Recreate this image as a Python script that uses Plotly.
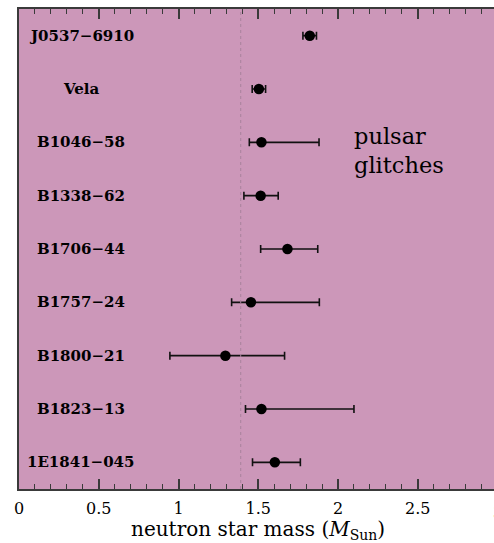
import plotly.graph_objects as go

pulsars = ["J0537−6910", "Vela", "B1046−58", "B1338−62", "B1706−44",
           "B1757−24", "B1800−21", "B1823−13", "1E1841−045"]
mass = [1.823, 1.504, 1.52, 1.515, 1.683, 1.454, 1.294, 1.52, 1.604]
mass_lo = [1.78, 1.462, 1.444, 1.41, 1.515, 1.333, 0.946, 1.42, 1.464]
mass_hi = [1.865, 1.546, 1.881, 1.625, 1.873, 1.883, 1.665, 2.10, 1.764]
ref_mass = 1.39
xticks = [0, 0.5, 1, 1.5, 2, 2.5]
xticklabels = ["0", "0.5", "1", "1.5", "2", "2.5"]
xmax = 2.978
x_title = "neutron star mass (<i>M</i><sub>Sun</sub>)"

rows = list(range(len(pulsars)))
err_plus = [h - m for h, m in zip(mass_hi, mass)]
err_minus = [m - l for m, l in zip(mass, mass_lo)]

BG = "#CC97B9"
AX = "#3a3a3a"
FONT = "DejaVu Serif"

fig = go.Figure()
fig.add_trace(go.Scatter(
    x=mass, y=rows, mode="markers",
    marker=dict(color="black", size=10.5),
    error_x=dict(type="data", array=err_plus, arrayminus=err_minus,
                 color="#111111", thickness=1.6, width=4),
    showlegend=False, hoverinfo="skip"))

fig.add_vline(x=ref_mass, line=dict(color="#A9829C", width=1, dash="dot"))

for r, name in zip(rows, pulsars):
    fig.add_annotation(x=0.39, y=r, text="<b>" + name + "</b>", showarrow=False,
                       xanchor="center", yanchor="middle",
                       font=dict(family=FONT, size=15, color="black"))

fig.add_annotation(x=2.09, y=2.15, text="pulsar<br>glitches", showarrow=False,
                   xanchor="left", yanchor="middle", align="left",
                   font=dict(family=FONT, size=22.5, color="black"))

# partially visible tick label "3" at the right edge
fig.add_annotation(xref="paper", yref="paper", x=3 / xmax, y=0, yshift=-12,
                   text="3", showarrow=False, xanchor="center", yanchor="top",
                   font=dict(family=FONT, size=16, color="black"))

# x-axis title, centred on the full 0-3 axis
fig.add_annotation(xref="x", yref="paper", x=1.5, y=0, yshift=-41,
                   text=x_title, showarrow=False, xanchor="center",
                   yanchor="middle",
                   font=dict(family=FONT, size=20, color="black"))

fig.update_xaxes(range=[0, xmax], tickvals=xticks, ticktext=xticklabels,
                 ticks="inside", ticklen=10, tickwidth=1.5, tickcolor=AX,
                 minor=dict(dtick=0.1, ticks="inside", ticklen=5, tickwidth=1.2,
                            tickcolor=AX, showgrid=False),
                 showline=True, linecolor=AX, linewidth=1.5, mirror="allticks",
                 showgrid=False, zeroline=False, ticklabelstandoff=4,
                 automargin=False,
                 tickfont=dict(family=FONT, size=16, color="black"))
fig.update_yaxes(range=[len(pulsars) - 0.5, -0.5], showticklabels=False,
                 ticks="", showgrid=False, zeroline=False,
                 showline=True, linecolor=AX, linewidth=1.5, mirror=False)

fig.update_layout(width=494, height=543,
                  margin=dict(l=19, r=0, t=9, b=54),
                  plot_bgcolor=BG, paper_bgcolor="white")

fig.write_html("out.html", config={"displayModeBar": False},
               post_script="document.body.style.margin='0';"
                           "document.body.style.overflow='hidden';")
